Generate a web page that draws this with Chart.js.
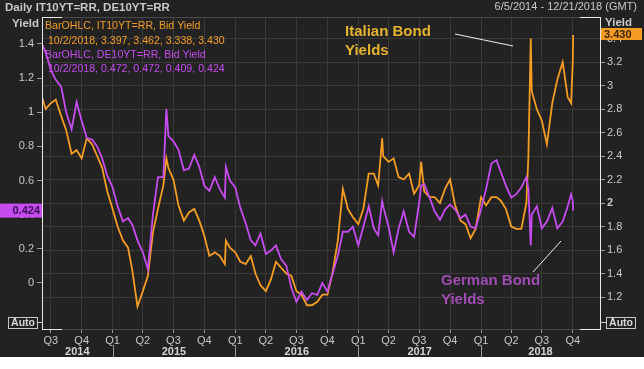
<!DOCTYPE html>
<html>
<head>
<meta charset="utf-8">
<script src="https://cdn.jsdelivr.net/npm/chart.js@4"></script>
<style>
  body { margin: 0; background: #fff; }
  #wrap { width: 644px; height: 357px; }
</style>
</head>
<body>
<div id="wrap"><canvas id="yields" width="644" height="357"></canvas></div>
<script>
// semi-monthly readings (plus a few spike days)
var dates = [
  '2014-06-05','2014-06-16','2014-07-01','2014-07-16','2014-08-01','2014-08-16','2014-09-01','2014-09-16',
  '2014-10-01','2014-10-16','2014-11-01','2014-11-16','2014-12-01','2014-12-16',
  '2015-01-01','2015-01-16','2015-02-01','2015-02-16','2015-03-01','2015-03-16','2015-04-01','2015-04-16',
  '2015-05-01','2015-05-16','2015-06-01','2015-06-10','2015-06-16','2015-07-01','2015-07-16','2015-08-01',
  '2015-08-16','2015-09-01','2015-09-16','2015-10-01','2015-10-16','2015-11-01','2015-11-16','2015-12-01',
  '2015-12-04','2015-12-16',
  '2016-01-01','2016-01-16','2016-02-01','2016-02-16','2016-03-01','2016-03-16','2016-04-01','2016-04-16',
  '2016-05-01','2016-05-16','2016-06-01','2016-06-16','2016-07-01','2016-07-16','2016-08-01','2016-08-16',
  '2016-09-01','2016-09-16','2016-10-01','2016-10-16','2016-11-01','2016-11-16','2016-12-01','2016-12-16',
  '2017-01-01','2017-01-16','2017-02-01','2017-02-16','2017-03-01','2017-03-13','2017-03-16','2017-04-01',
  '2017-04-16','2017-05-01','2017-05-16','2017-06-01','2017-06-16','2017-07-01','2017-07-07','2017-07-16',
  '2017-08-01','2017-08-16','2017-09-01','2017-09-16','2017-10-01','2017-10-16','2017-11-01','2017-11-16',
  '2017-12-01','2017-12-16',
  '2018-01-01','2018-01-16','2018-02-01','2018-02-16','2018-03-01','2018-03-16','2018-04-01','2018-04-16',
  '2018-05-01','2018-05-16','2018-05-22','2018-05-29','2018-06-01','2018-06-16','2018-07-01','2018-07-16',
  '2018-08-01','2018-08-16','2018-09-01','2018-09-16','2018-09-26','2018-10-01','2018-10-02'
];
var itYield = [
  2.90, 2.80, 2.85, 2.88, 2.74, 2.62, 2.42, 2.45,
  2.38, 2.55, 2.50, 2.40, 2.30, 2.10,
  1.95, 1.80, 1.68, 1.62, 1.42, 1.12, 1.25, 1.38,
  1.75, 1.95, 2.15, 2.38, 2.30, 2.20, 1.98, 1.85,
  1.92, 1.95, 1.85, 1.72, 1.55, 1.58, 1.55, 1.48,
  1.68, 1.62,
  1.58, 1.50, 1.48, 1.55, 1.40, 1.30, 1.25, 1.35,
  1.50, 1.45, 1.40, 1.38, 1.25, 1.22, 1.13, 1.13,
  1.16, 1.22, 1.22, 1.40, 1.68, 2.12, 1.95, 1.88,
  1.82, 1.95, 2.25, 2.25, 2.15, 2.55, 2.40, 2.35,
  2.38, 2.22, 2.20, 2.25, 2.08, 2.15, 2.35, 2.10,
  2.05, 2.05, 2.00, 2.12, 2.20, 1.98, 1.85, 1.82,
  1.70, 1.78,
  2.05, 1.98, 2.05, 2.05, 2.02, 1.95, 1.80, 1.78,
  1.78, 2.00, 2.40, 3.40, 2.95, 2.80, 2.70, 2.50,
  2.85, 3.05, 3.20, 2.90, 2.85, 3.20, 3.43
];
var deYield = [
  1.40, 1.35, 1.25, 1.19, 1.15, 1.00, 0.90, 1.06,
  0.95, 0.85, 0.84, 0.80, 0.73, 0.63,
  0.56, 0.45, 0.36, 0.38, 0.34, 0.25, 0.18, 0.08,
  0.40, 0.62, 0.62, 1.02, 0.86, 0.83, 0.78, 0.66,
  0.67, 0.75, 0.68, 0.57, 0.54, 0.62, 0.55, 0.50,
  0.68, 0.60,
  0.56, 0.44, 0.35, 0.25, 0.22, 0.29, 0.17, 0.19,
  0.22, 0.14, 0.10, -0.03, -0.11, -0.05, -0.10, -0.06,
  -0.07, 0.00, -0.05, 0.05, 0.16, 0.30, 0.30, 0.33,
  0.22, 0.33, 0.45, 0.32, 0.28, 0.48, 0.45, 0.33,
  0.18, 0.32, 0.42, 0.30, 0.27, 0.47, 0.57, 0.58,
  0.50, 0.42, 0.37, 0.43, 0.46, 0.43, 0.38, 0.40,
  0.33, 0.32,
  0.43, 0.55, 0.70, 0.72, 0.65, 0.57, 0.50, 0.52,
  0.56, 0.62, 0.55, 0.22, 0.40, 0.45, 0.32, 0.36,
  0.44, 0.32, 0.36, 0.45, 0.52, 0.48, 0.424
];

var deTicks = [0, 0.2, 0.4, 0.6, 0.8, 1, 1.2, 1.4];
var itTicks = [1.2, 1.4, 1.6, 1.8, 2, 2.2, 2.4, 2.6, 2.8, 3, 3.2, 3.4];
var quarterStarts = [
  '2014-07-01','2014-10-01','2015-01-01','2015-04-01','2015-07-01','2015-10-01',
  '2016-01-01','2016-04-01','2016-07-01','2016-10-01','2017-01-01','2017-04-01',
  '2017-07-01','2017-10-01','2018-01-01','2018-04-01','2018-07-01','2018-10-01'
];
var quarterLabels = ['Q3','Q4','Q1','Q2','Q3','Q4','Q1','Q2','Q3','Q4','Q1','Q2','Q3','Q4','Q1','Q2','Q3','Q4'];
var years = ['2014', '2015', '2016', '2017', '2018'];

var IT_COL = '#f59d22';
var DE_COL = '#c64cf0';
var TXT = '#c8c8c8';
var FONT = '"Liberation Sans", Arial, sans-serif';

function pts(vals) {
  return vals.map(function(v, i) { return {x: Date.parse(dates[i]), y: v}; });
}

function fmt(v) {
  return String(Math.round(v * 10) / 10);
}

var decor = {
  id: 'decor',
  beforeDraw: function(chart) {
    var c = chart.ctx;
    c.save();
    c.fillStyle = '#222222';
    c.fillRect(0, 0, chart.width, chart.height);
    c.restore();
  },
  afterDraw: function(chart) {
    var c = chart.ctx, a = chart.chartArea, xs = chart.scales.x;
    c.save();

    // frame
    c.lineWidth = 1;
    c.strokeStyle = '#4a4a4a';
    c.beginPath();
    c.moveTo(a.left, a.top + 0.5); c.lineTo(a.right, a.top + 0.5);
    c.moveTo(a.left, a.bottom + 0.5); c.lineTo(a.right, a.bottom + 0.5);
    c.stroke();
    c.strokeStyle = '#e8e8e8';
    c.beginPath();
    c.moveTo(a.left + 0.5, a.top); c.lineTo(a.left + 0.5, a.bottom + 1);
    c.moveTo(a.right + 0.5, a.top); c.lineTo(a.right + 0.5, a.bottom + 1);
    c.moveTo(a.left, a.top + 0.5); c.lineTo(a.left + 20, a.top + 0.5);
    c.moveTo(a.right - 20, a.top + 0.5); c.lineTo(a.right, a.top + 0.5);
    c.moveTo(a.left, a.bottom + 0.5); c.lineTo(a.left + 20, a.bottom + 0.5);
    c.moveTo(a.right - 20, a.bottom + 0.5); c.lineTo(a.right, a.bottom + 0.5);
    c.stroke();

    // years under the quarters
    c.font = 'bold 11px ' + FONT;
    c.textAlign = 'center';
    c.textBaseline = 'middle';
    c.fillStyle = '#d4d4d4';
    c.strokeStyle = '#9a9a9a';
    for (var i = 0; i < years.length; i++) {
      var y0 = Date.parse(years[i] + '-01-01');
      var y1 = Date.parse((+years[i] + 1) + '-01-01');
      var p0 = Math.max(a.left, xs.getPixelForValue(y0));
      var p1 = Math.min(a.right, xs.getPixelForValue(y1));
      c.fillText(years[i], (p0 + p1) / 2, 352);
      if (i > 0) {
        var px = Math.round(xs.getPixelForValue(y0)) + 0.5;
        c.beginPath(); c.moveTo(px, 345); c.lineTo(px, 357); c.stroke();
      }
    }

    // header
    c.textBaseline = 'middle';
    c.textAlign = 'left';
    c.fillStyle = TXT;
    c.font = 'bold 11.5px ' + FONT;
    c.fillText('Daily IT10YT=RR, DE10YT=RR', 5, 8);
    c.fillText('Yield', 12, 24);
    c.fillText('Yield', 605, 23);
    c.font = '11px ' + FONT;
    c.textAlign = 'right';
    c.fillText('6/5/2014 - 12/21/2018 (GMT)', 637, 7);

    // series info
    c.textAlign = 'left';
    c.font = '10.6px ' + FONT;
    c.fillStyle = IT_COL;
    c.fillText('BarOHLC, IT10YT=RR, Bid Yield', 45, 26);
    c.fillText(' 10/2/2018, 3.397, 3.462, 3.338, 3.430', 45, 41);
    c.fillStyle = DE_COL;
    c.fillText('BarOHLC, DE10YT=RR, Bid Yield', 45, 55);
    c.fillText(' 10/2/2018, 0.472, 0.472, 0.409, 0.424', 45, 69);

    // last value boxes
    var yR = chart.scales.yR, yL = chart.scales.yL;
    var lastIt = itYield[itYield.length - 1], lastDe = deYield[deYield.length - 1];
    var ry = yR.getPixelForValue(lastIt);
    c.fillStyle = IT_COL;
    c.fillRect(a.right + 1, ry - 7, 41, 12);
    c.fillStyle = '#3a2200';
    c.font = 'bold 11px ' + FONT;
    c.fillText(lastIt.toFixed(3), a.right + 4, ry);
    var ly = yL.getPixelForValue(lastDe);
    c.fillStyle = DE_COL;
    c.fillRect(0, ly - 7, a.left, 14);
    c.fillStyle = '#3a0c55';
    c.textAlign = 'right';
    c.fillText(lastDe.toFixed(3), a.left - 2, ly);

    // Auto boxes
    c.textAlign = 'center';
    c.font = 'bold 10.5px ' + FONT;
    c.strokeStyle = '#c8c8c8';
    c.fillStyle = '#d8d8d8';
    c.strokeRect(8.5, 317.5, 29, 11);
    c.fillText('Auto', 23, 323.5);
    c.strokeRect(606.5, 317.5, 29, 11);
    c.fillText('Auto', 621, 323.5);
    c.beginPath();
    c.moveTo(37, 322.5); c.lineTo(42, 322.5);
    c.moveTo(600, 322.5); c.lineTo(606, 322.5);
    c.stroke();

    // annotations
    c.textAlign = 'left';
    c.font = 'bold 15px ' + FONT;
    c.fillStyle = '#e6b42c';
    c.fillText('Italian Bond', 345, 32);
    c.fillText('Yields', 345, 51);
    c.fillStyle = '#a04cb4';
    c.fillText('German Bond', 441, 281);
    c.fillText('Yields', 441, 300);
    c.strokeStyle = '#f0f0f0';
    c.beginPath();
    c.moveTo(455, 34); c.lineTo(513, 46);
    c.moveTo(533, 272); c.lineTo(561, 241);
    c.stroke();

    c.restore();
  }
};

new Chart(document.getElementById('yields'), {
  type: 'line',
  data: {
    datasets: [
      {label: 'DE10YT=RR', data: pts(deYield), yAxisID: 'yL', borderColor: DE_COL, borderWidth: 1.8},
      {label: 'IT10YT=RR', data: pts(itYield), yAxisID: 'yR', borderColor: IT_COL, borderWidth: 1.8}
    ]
  },
  options: {
    responsive: false,
    animation: false,
    layout: {padding: {top: 17}},
    elements: {point: {radius: 0}, line: {tension: 0}},
    plugins: {legend: {display: false}, tooltip: {enabled: false}},
    scales: {
      x: {
        type: 'linear',
        min: Date.parse('2014-06-05'),
        max: Date.parse('2018-12-21'),
        afterFit: function(s) { s.height = 28; },
        afterBuildTicks: function(s) {
          s.ticks = quarterStarts.map(function(d) { return {value: Date.parse(d)}; });
        },
        ticks: {
          autoSkip: false, maxRotation: 0, padding: 1, color: TXT,
          font: {family: FONT, size: 11},
          callback: function(v, i) { return quarterLabels[i]; }
        },
        grid: {color: '#393939', tickColor: '#9a9a9a', tickLength: 4},
        border: {display: false}
      },
      yL: {
        position: 'left',
        min: -0.2695,
        max: 1.558,
        afterFit: function(s) { s.width = 42; },
        afterBuildTicks: function(s) {
          s.ticks = deTicks.map(function(v) { return {value: v}; });
        },
        ticks: {padding: 3, color: TXT, font: {family: FONT, size: 11}, callback: fmt},
        grid: {drawOnChartArea: false, tickColor: '#9a9a9a', tickLength: 5},
        border: {display: false}
      },
      yR: {
        position: 'right',
        min: 0.928,
        max: 3.583,
        afterFit: function(s) { s.width = 44; },
        afterBuildTicks: function(s) {
          s.ticks = itTicks.map(function(v) { return {value: v}; });
        },
        ticks: {
          padding: 2, color: TXT, callback: fmt,
          font: function(ctx) {
            return {family: FONT, size: 11, weight: ctx.tick && ctx.tick.value === 2 ? 'bold' : 'normal'};
          }
        },
        grid: {color: '#393939', tickColor: '#9a9a9a', tickLength: 5},
        border: {display: false}
      }
    }
  },
  plugins: [decor]
});
</script>
</body>
</html>
